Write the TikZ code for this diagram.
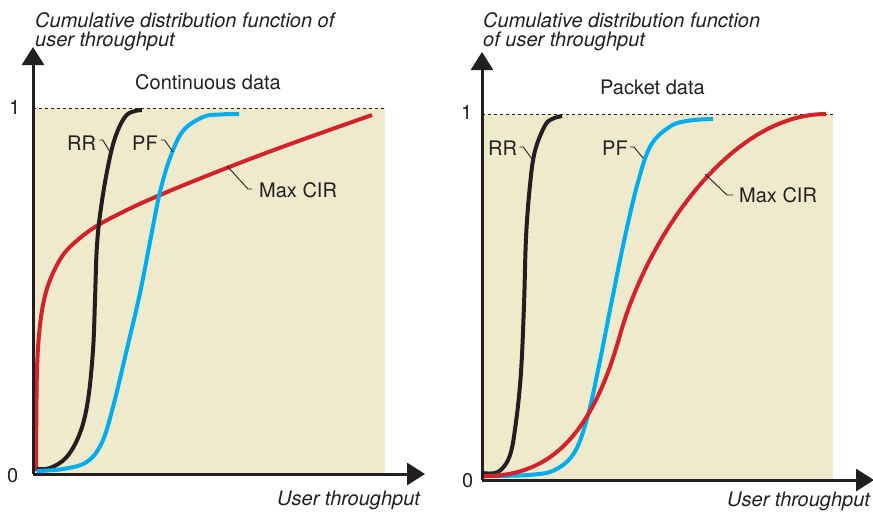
\documentclass[tikz,border=0pt]{standalone}
\usepackage{fontspec}
\setmainfont{TeX Gyre Heros}
\usetikzlibrary{arrows.meta,calc}
\definecolor{bgbeige}{HTML}{F0EACD}
\definecolor{cred}{HTML}{D2232A}
\definecolor{cblue}{HTML}{00AEEF}
\definecolor{cblack}{HTML}{231F20}
\begin{document}
\begin{tikzpicture}[x=1pt,y=-1pt,
  txt/.style={inner sep=0pt,anchor=base west,font=\fontsize{20}{22}\selectfont,text=cblack},
  ittxt/.style={txt,font=\fontsize{20}{22}\selectfont\itshape},
  axis/.style={line width=3pt,draw=cblack,-{Triangle[width=22pt,length=18pt]}},
  curve/.style={line width=4pt,line join=round},
  leader/.style={line width=0.9pt,draw=cblack},
  limit/.style={line width=0.8pt,dash pattern=on 3pt off 3pt,draw=cblack}]
\useasboundingbox (0,0) rectangle (873,512);
% ---------------- left plot ----------------
\fill[bgbeige] (33,108) rectangle (385,474);
\coordinate (LO) at (33,474);
\coordinate (LY) at (33,47);
\coordinate (LX) at (425,474);
\coordinate (L1a) at (33,108);
\coordinate (L1b) at (385,108);
\draw[limit] (L1a) -- (L1b);
\draw[curve,cred] plot[smooth,tension=0.6] coordinates {(36,471) (36.3,420) (37,370) (39,335) (43,305) (50,280) (63,255) (80,238) (100,224) (130,208.5) (160,195) (200,178.5) (250,159) (300,140.5) (372,115)};
\draw[curve,cblack] plot[smooth,tension=0.6] coordinates {(36.7,469) (50,468) (66.7,457) (80,433) (88,400) (93,350) (95,300) (96.7,250) (100,215) (106.7,173) (115,138) (126.7,115) (142,110)};
\draw[curve,cblue] plot[smooth,tension=0.6] coordinates {(36.7,471) (63,469) (86.7,462) (101.7,443) (113,407) (126.7,350) (140,293) (151.7,233) (160,192) (170,158) (183,131) (203,117) (220,114.5) (239,114)};
\draw[axis] (LO) -- (LY);
\draw[axis] (LO) -- (LX);
\node[txt] (l1) at (9,114) {1};
\node[txt] (l0) at (7,482) {0};
\node[txt] (ltitle) at (135,89) {Continuous data};
\node[ittxt] (lya) at (35,27) {Cumulative distribution function of};
\node[ittxt] (lyb) at (35,46) {user throughput};
\node[ittxt] (lx) at (277,505) {User throughput};
\node[txt] (lrr) at (67,150) {RR};
\node[txt] (lpf) at (132,150) {PF};
\node[txt] (lmc) at (259,197) {Max CIR};
\coordinate (lrrc) at (110,152);
\coordinate (lpfc) at (173,152);
\coordinate (lmcc) at (227,166);
\draw[leader] ($(lrr.base east)+(3,-10)$) -- ++(3.5,0) -- (lrrc);
\draw[leader] ($(lpf.base east)+(3,-10)$) -- ++(3.5,0) -- (lpfc);
\draw[leader] (lmcc) -- (248,189) -- ($(lmc.base west)+(-7,-8)$);
% ---------------- right plot ----------------
\fill[bgbeige] (482,114) rectangle (833,480);
\coordinate (RO) at (482,480);
\coordinate (RY) at (482,52);
\coordinate (RX) at (874,480);
\coordinate (R1a) at (482,114);
\coordinate (R1b) at (833,114);
\draw[limit] (R1a) -- (R1b);
\draw[curve,cblack] plot[smooth,tension=0.6] coordinates {(483,473) (498,472) (509.7,456) (516,422) (521,372) (524,305) (526,238) (529.7,188) (534.7,152) (544.7,126) (552,119) (562,116)};
\draw[curve,cblue] plot[smooth,tension=0.6] coordinates {(483,476) (528,475) (554.7,470) (574.7,452) (588,415) (599.7,362) (611,305) (624.7,238) (638,182) (651,145) (671,126) (690,120.5) (713,119)};
\draw[curve,cred] (483,476) .. controls (552,477) and (593,432) .. (620,335) .. controls (647,238) and (730,114) .. (826,114);
\draw[axis] (RO) -- (RY);
\draw[axis] (RO) -- (RX);
\node[txt] (r1) at (461,119) {1};
\node[txt] (r0) at (462,487) {0};
\node[txt] (rtitle) at (600,94) {Packet data};
\node[ittxt] (rya) at (483,27) {Cumulative distribution function};
\node[ittxt] (ryb) at (483,46) {of user throughput};
\node[ittxt] (rx) at (727,506) {User throughput};
\node[txt] (rrr) at (488,155) {RR};
\node[txt] (rpf) at (602,155) {PF};
\node[txt] (rmc) at (739,202) {Max CIR};
\coordinate (rrrc) at (532,159);
\coordinate (rpfc) at (643,158);
\coordinate (rmcc) at (705,174);
\draw[leader] ($(rrr.base east)+(2,-8)$) -- ++(4,0) -- (rrrc);
\draw[leader] ($(rpf.base east)+(2,-8)$) -- ++(4,0) -- (rpfc);
\draw[leader] (rmcc) -- (727,195) -- ($(rmc.base west)+(-6,-7)$);
\end{tikzpicture}
\end{document}
